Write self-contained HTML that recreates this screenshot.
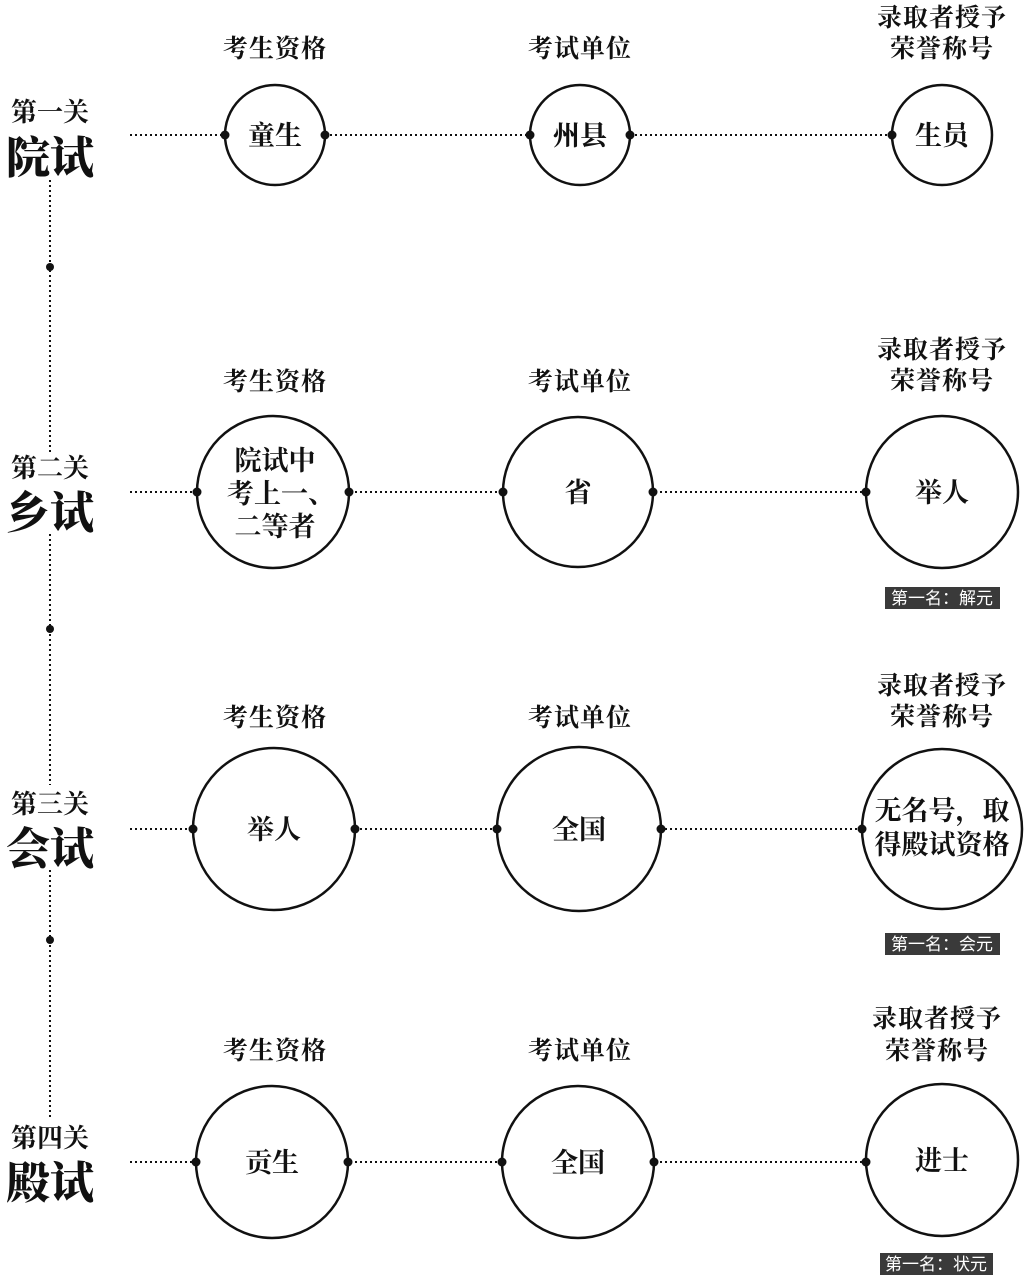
<!DOCTYPE html>
<html><head><meta charset="utf-8"><style>
html,body{margin:0;padding:0;background:#fff;}
svg{display:block}
text{font-family:"Liberation Serif","Noto Serif CJK SC",serif;fill:#111;}
.h{font-size:25px;font-weight:bold;text-anchor:middle;letter-spacing:1px}
.c{font-size:27px;font-weight:bold;text-anchor:middle}
.g{font-size:26px;font-weight:bold;text-anchor:middle}
.t{font-size:44px;font-weight:900;text-anchor:middle}
.b{font-family:"Liberation Sans","Noto Sans CJK SC",sans-serif;font-size:17px;fill:#fff;text-anchor:middle}
</style></head><body>
<svg width="1030" height="1279" viewBox="0 0 1030 1279" xmlns="http://www.w3.org/2000/svg">
<g stroke="#111" stroke-width="2" stroke-dasharray="2 3" fill="none">
<line x1="50" y1="180" x2="50" y2="452"/>
<line x1="50" y1="534" x2="50" y2="785"/>
<line x1="50" y1="870" x2="50" y2="1120"/>
<line x1="130" y1="135" x2="892" y2="135"/>
<line x1="130" y1="492" x2="866" y2="492"/>
<line x1="130" y1="829" x2="862" y2="829"/>
<line x1="130" y1="1162" x2="866" y2="1162"/>
</g>
<g fill="#111">
<circle cx="50" cy="267" r="4"/><circle cx="50" cy="629" r="4"/><circle cx="50" cy="940" r="4"/>
</g>
<g stroke="#111" stroke-width="2.5" fill="#fff">
<circle cx="275" cy="135" r="50"/><circle cx="580" cy="135" r="50"/><circle cx="942" cy="135" r="50"/>
<circle cx="273" cy="492" r="76"/><circle cx="578" cy="492" r="75"/><circle cx="942" cy="492" r="76"/>
<circle cx="274" cy="829" r="81"/><circle cx="579" cy="829" r="82"/><circle cx="942" cy="829" r="80"/>
<circle cx="272" cy="1162" r="76"/><circle cx="578" cy="1162" r="76"/><circle cx="942" cy="1160" r="76"/>
</g>
<g fill="#111">
<circle cx="225" cy="135" r="4.5"/><circle cx="325" cy="135" r="4.5"/><circle cx="530" cy="135" r="4.5"/><circle cx="630" cy="135" r="4.5"/><circle cx="892" cy="135" r="4.5"/>
<circle cx="197" cy="492" r="4.5"/><circle cx="349" cy="492" r="4.5"/><circle cx="503" cy="492" r="4.5"/><circle cx="653" cy="492" r="4.5"/><circle cx="866" cy="492" r="4.5"/>
<circle cx="193" cy="829" r="4.5"/><circle cx="355" cy="829" r="4.5"/><circle cx="497" cy="829" r="4.5"/><circle cx="661" cy="829" r="4.5"/><circle cx="862" cy="829" r="4.5"/>
<circle cx="196" cy="1162" r="4.5"/><circle cx="348" cy="1162" r="4.5"/><circle cx="502" cy="1162" r="4.5"/><circle cx="654" cy="1162" r="4.5"/><circle cx="866" cy="1162" r="4.5"/>
</g>
<text class="g" x="50" y="121">第一关</text><text class="t" x="50" y="173">院试</text>
<text class="g" x="50" y="477">第二关</text><text class="t" x="50" y="528">乡试</text>
<text class="g" x="50" y="813">第三关</text><text class="t" x="50" y="864">会试</text>
<text class="g" x="50" y="1147">第四关</text><text class="t" x="50" y="1198">殿试</text>
<text class="h" x="275" y="57">考生资格</text><text class="h" x="580" y="57">考试单位</text>
<text class="h" x="942" y="26">录取者授予</text><text class="h" x="942" y="57">荣誉称号</text>
<text class="h" x="275" y="390">考生资格</text><text class="h" x="580" y="390">考试单位</text>
<text class="h" x="942" y="358">录取者授予</text><text class="h" x="942" y="389">荣誉称号</text>
<text class="h" x="275" y="726">考生资格</text><text class="h" x="580" y="726">考试单位</text>
<text class="h" x="942" y="694">录取者授予</text><text class="h" x="942" y="725">荣誉称号</text>
<text class="h" x="275" y="1059">考生资格</text><text class="h" x="580" y="1059">考试单位</text>
<text class="h" x="937" y="1027">录取者授予</text><text class="h" x="937" y="1059">荣誉称号</text>
<text class="c" x="275" y="145">童生</text><text class="c" x="580" y="145">州县</text><text class="c" x="942" y="145">生员</text>
<text class="c" x="275" y="470">院试中</text><text class="c" x="281" y="503">考上一、</text><text class="c" x="275" y="536">二等者</text>
<text class="c" x="578" y="502">省</text><text class="c" x="942" y="502">举人</text>
<text class="c" x="274" y="839">举人</text><text class="c" x="579" y="839">全国</text>
<text class="c" x="942" y="820">无名号，取</text><text class="c" x="942" y="854">得殿试资格</text>
<text class="c" x="272" y="1172">贡生</text><text class="c" x="578" y="1172">全国</text><text class="c" x="942" y="1170">进士</text>
<rect x="885" y="587" width="115" height="22" fill="#3a3a3a"/><text class="b" x="942" y="604">第一名：解元</text>
<rect x="885" y="933" width="115" height="22" fill="#3a3a3a"/><text class="b" x="942" y="950">第一名：会元</text>
<rect x="880" y="1253" width="113" height="22" fill="#3a3a3a"/><text class="b" x="936" y="1270">第一名：状元</text>
</svg>
</body></html>
